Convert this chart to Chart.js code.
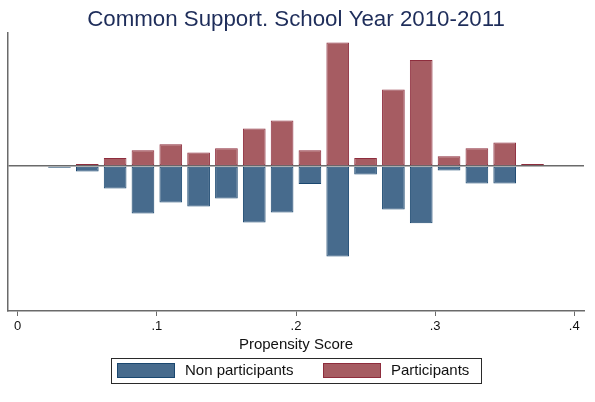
<!DOCTYPE html>
<html>
<head>
<meta charset="utf-8">
<script src="https://cdn.jsdelivr.net/npm/chart.js@4.4.1/dist/chart.umd.min.js"></script>
<style>
html,body{margin:0;padding:0;background:#ffffff;}
#wrap{width:595px;height:402px;position:relative;}
</style>
</head>
<body>
<div id="wrap"><canvas id="c" width="595" height="402"></canvas></div>
<script>
// ---- data ----
const binCenters = [0.03,0.05,0.07,0.09,0.11,0.13,0.15,0.17,0.19,0.21,0.23,0.25,0.27,0.29,0.31,0.33,0.35,0.37];
const participants = [null,0.20,0.80,1.57,2.17,1.34,1.77,3.74,4.54,1.57,12.34,0.80,7.64,10.60,0.97,1.77,2.34,0.20];
const nonParticipants = [-0.18,-0.56,-2.26,-4.76,-3.66,-4.06,-3.26,-5.66,-4.66,-1.80,-9.06,-0.86,-4.36,-5.73,-0.46,-1.76,-1.76,null];
const xTickValues = [0,0.1,0.2,0.3,0.4];
const xTickLabels = ['0','.1','.2','.3','.4'];
const seriesLabels = ['Non participants','Participants'];
const titleText = 'Common Support. School Year 2010-2011';
const xAxisTitle = 'Propensity Score';

const FONT = "'Liberation Sans', Arial, Helvetica, sans-serif";
const AXIS_GRAY = '#6a6a6a';

const toPoints = (vals) => binCenters.map((x, i) => ({x: x, y: vals[i]}));

const boxLegend = {
  id: 'boxLegend',
  afterDraw(chart, args, o) {
    const ctx = chart.ctx;
    ctx.save();
    ctx.lineWidth = 1;
    ctx.strokeStyle = '#2a2a2a';
    ctx.strokeRect(o.x + 0.5, o.y + 0.5, o.w, o.h);
    ctx.font = o.fontSize + 'px ' + FONT;
    ctx.textBaseline = 'middle';
    ctx.textAlign = 'left';
    chart.data.datasets.forEach((ds, i) => {
      const sx = o.itemX[i];
      ctx.fillStyle = ds.backgroundColor;
      ctx.fillRect(sx, o.swY, o.swW, o.swH);
      ctx.strokeStyle = ds.borderColor;
      ctx.strokeRect(sx + 0.5, o.swY + 0.5, o.swW - 1, o.swH - 1);
      ctx.fillStyle = '#111111';
      ctx.fillText(ds.label, sx + o.swW + o.gap, o.swY + o.swH / 2 + 0.5);
    });
    ctx.restore();
  }
};

new Chart(document.getElementById('c'), {
  type: 'bar',
  data: {
    datasets: [
      {
        label: seriesLabels[0],
        data: toPoints(nonParticipants),
        backgroundColor: '#476b8d',
        borderColor: '#1a476f',
        borderWidth: 1,
        borderSkipped: false,
        grouped: false,
        categoryPercentage: 1,
        barPercentage: 0.815
      },
      {
        label: seriesLabels[1],
        data: toPoints(participants),
        backgroundColor: '#a65c62',
        borderColor: '#8e2d3d',
        borderWidth: 1,
        borderSkipped: false,
        grouped: false,
        categoryPercentage: 1,
        barPercentage: 0.815
      }
    ]
  },
  options: {
    responsive: false,
    animation: false,
    layout: { padding: { left: 8, right: 11, top: 0, bottom: 46 } },
    plugins: {
      legend: { display: false },
      tooltip: { enabled: false },
      title: {
        display: true,
        text: titleText,
        color: '#1e2d5a',
        font: { family: FONT, size: 22.3, weight: 'normal', lineHeight: 1 },
        padding: { top: 8.6, bottom: 1.4 }
      },
      boxLegend: {
        x: 111, y: 358, w: 370, h: 25,
        itemX: [117, 323], swY: 363, swW: 58, swH: 15, gap: 10, fontSize: 15
      }
    },
    scales: {
      x: {
        type: 'linear',
        min: -0.007,
        max: 0.407,
        offset: false,
        afterBuildTicks: (s) => { s.ticks = xTickValues.map(v => ({value: v})); },
        afterFit: (s) => { s.height = 45; },
        ticks: {
          callback: (v) => { const i = xTickValues.indexOf(v); return i >= 0 ? xTickLabels[i] : ''; },
          font: { family: FONT, size: 13 },
          color: '#111111',
          padding: 3,
          maxRotation: 0,
          autoSkip: false
        },
        grid: { drawOnChartArea: false, offset: false, tickLength: 5, color: AXIS_GRAY, lineWidth: 1 },
        border: { display: true, color: AXIS_GRAY, width: 1.5 },
        title: {
          display: true,
          text: xAxisTitle,
          color: '#111111',
          font: { family: FONT, size: 15, lineHeight: 1.2 },
          padding: { top: 0, bottom: 2 }
        }
      },
      y: {
        type: 'linear',
        min: -14.5,
        max: 13.37,
        z: 1,
        afterBuildTicks: (s) => { s.ticks = [{value: 0}]; },
        afterFit: (s) => { s.width = 0; },
        ticks: { display: false },
        grid: { drawTicks: false, color: AXIS_GRAY, lineWidth: 1.5 },
        border: { display: true, color: AXIS_GRAY, width: 1.5 }
      }
    }
  },
  plugins: [boxLegend]
});
</script>
</body>
</html>
